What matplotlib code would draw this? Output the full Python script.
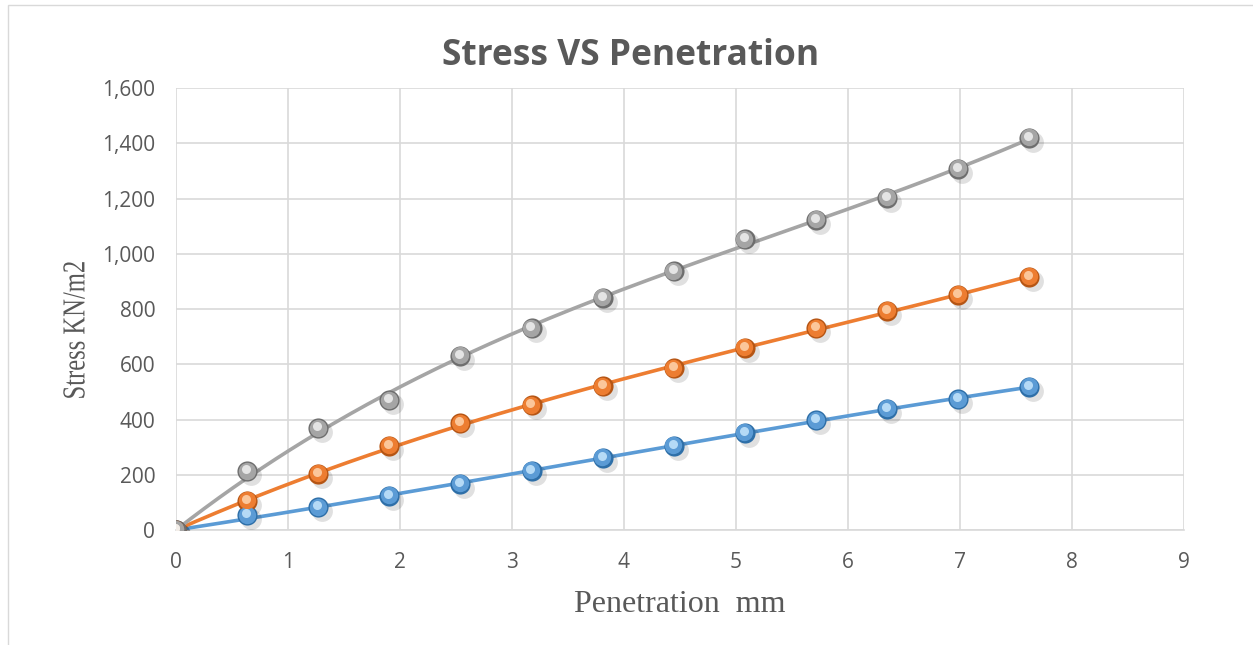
import numpy as np
import matplotlib
matplotlib.use("Agg")
import matplotlib.pyplot as plt
from matplotlib.patches import Rectangle, PathPatch
from matplotlib.textpath import TextPath
from matplotlib.font_manager import FontProperties
from matplotlib.transforms import Affine2D

# Penetration (mm) and stress (kN/m2) for three samples
penetration = [0, 0.635, 1.27, 1.905, 2.54, 3.175, 3.81, 4.445, 5.08, 5.715, 6.35, 6.985, 7.62]
stress_blue = [0, 54, 83, 123, 167, 214, 261, 304, 351, 398, 438, 474, 518]
stress_orange = [0, 105, 203, 304, 387, 452, 521, 586, 659, 731, 793, 851, 916]
stress_gray = [0, 213, 369, 470, 630, 731, 840, 937, 1053, 1122, 1202, 1307, 1419]

series = [
    (stress_blue, "#5B9BD5", "#2E6FA8", "#CDEBFF"),
    (stress_orange, "#ED7D31", "#B55514", "#FFD9B5"),
    (stress_gray, "#A5A5A5", "#6E6E6E", "#F4F4F4"),
]

x_ticks = list(range(0, 10))
y_ticks = list(range(0, 1601, 200))

W, H = 1253, 645
fig = plt.figure(figsize=(W / 100, H / 100), dpi=100)
ax = fig.add_axes([176 / W, 1 - 530 / H, (1184 - 176) / W, (530 - 88) / H])

# chart border
fig.patches.append(Rectangle((8 / W, -0.01), 1.02, 1 - 5 / H + 0.01, transform=fig.transFigure,
                             fill=False, edgecolor="#D9D9D9", linewidth=1.0))

x = np.asarray(penetration, dtype=float)
xs = np.linspace(0, x.max(), 300)
for vals, col, dark, light in series:
    y = np.asarray(vals, dtype=float)
    # polynomial trend (3rd order) passing through the origin
    A = np.column_stack([x, x ** 2, x ** 3])
    coef, *_ = np.linalg.lstsq(A, y, rcond=None)
    ax.plot(xs, coef[0] * xs + coef[1] * xs ** 2 + coef[2] * xs ** 3, color=col,
            linewidth=2.6, zorder=3, solid_capstyle="round")

for vals, col, dark, light in series:
    y = np.asarray(vals, dtype=float)
    # soft shadow, sphere body, lower shading and highlight
    ax.plot(x + 0.035, y - 14, "o", markersize=15, color="#000000", alpha=0.12, zorder=4,
            markeredgewidth=0)
    ax.plot(x, y, "o", markersize=14.5, markerfacecolor=dark, markeredgewidth=0, zorder=5)
    ax.plot(x - 0.005, y + 2, "o", markersize=12.5, markerfacecolor=col, markeredgewidth=0,
            zorder=6)
    ax.plot(x - 0.01, y + 8, "o", markersize=6.5, markerfacecolor=light, markeredgewidth=0,
            alpha=0.8, zorder=7)

ax.set_xlim(0, 9)
ax.set_ylim(0, 1600)
ax.set_xticks(x_ticks)
ax.set_yticks(y_ticks)
ax.set_yticklabels([f"{v:,}" for v in y_ticks])
ax.grid(True, color="#D9D9D9", linewidth=1.2, zorder=0)
ax.set_axisbelow(True)
for s in ["top", "right", "left"]:
    ax.spines[s].set_visible(False)
ax.spines["bottom"].set_color("#D9D9D9")
ax.spines["bottom"].set_linewidth(1.2)
ax.tick_params(length=0, labelsize=15, labelcolor="#595959")
ax.tick_params(axis="x", pad=16)
ax.tick_params(axis="y", pad=15)
for lab in ax.get_xticklabels() + ax.get_yticklabels():
    lab.set_family("Open Sans")

ax.set_xlabel("Penetration  mm", family="Liberation Serif", fontsize=23, color="#595959", labelpad=12)

# vertical axis title: serif text, condensed along its length
ylab_path = TextPath((0, 0), "Stress KN/m2", size=23 * 100 / 72,
                     prop=FontProperties(family="Liberation Serif"))
ext = ylab_path.get_extents()
cx, cy = (ext.x0 + ext.x1) / 2, (ext.y0 + ext.y1) / 2
ylab_tf = (Affine2D().translate(-cx, -cy).scale(0.77, 1.0).rotate_deg(90)
           .translate(74, H - 330))
fig.add_artist(PathPatch(ylab_path, transform=ylab_tf, facecolor="#595959",
                         edgecolor="none"))

fig.text(631 / W, 1 - 56 / H, "Stress VS Penetration", ha="center", va="center",
         family="Open Sans", fontweight="bold", fontsize=25.5, color="#595959")

fig.savefig("out.png", dpi=100)
